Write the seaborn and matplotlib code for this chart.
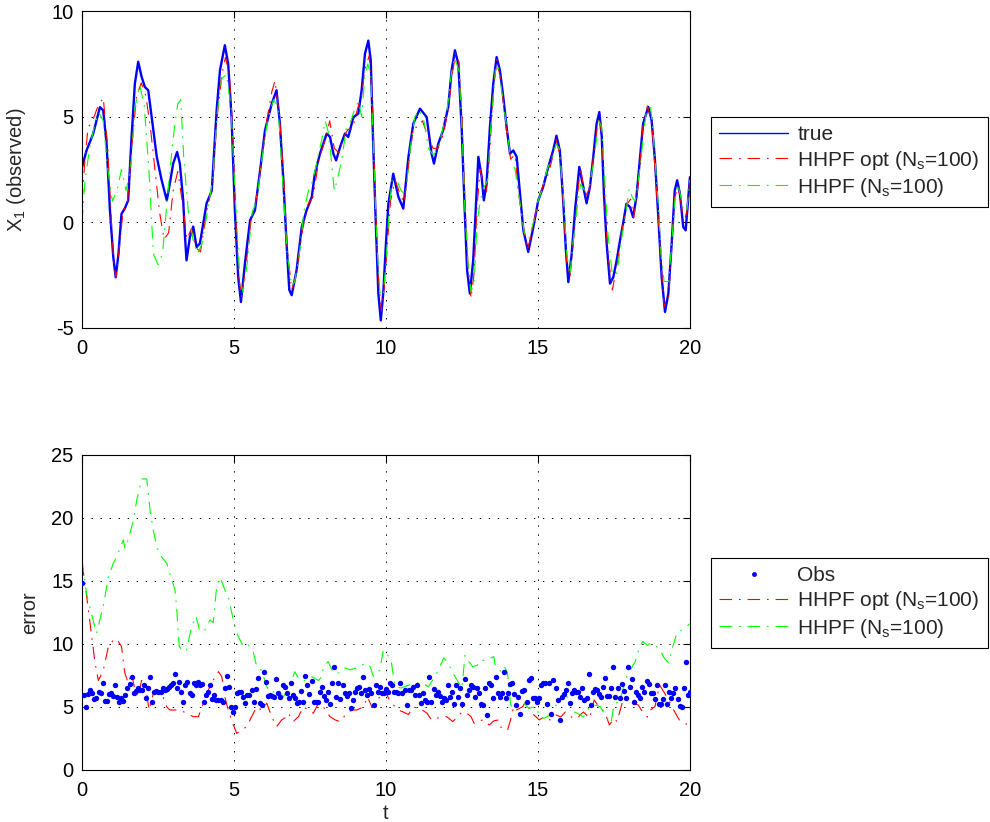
import matplotlib
matplotlib.use('Agg')
import matplotlib.pyplot as plt
import seaborn as sns
import numpy as np
import pandas as pd
from matplotlib.lines import Line2D

# ---- values: (t, value) ----
true_pts = [(0.0, 2.6), (0.15, 3.4), (0.37, 4.2), (0.59, 5.45), (0.7, 5.3), (0.81, 3.7), (0.92, 0.57),
            (1.03, -1.64), (1.11, -2.6), (1.2, -1.5), (1.3, 0.4), (1.41, 0.66), (1.52, 1.04), (1.63, 4.0),
            (1.74, 6.56), (1.85, 7.6), (1.96, 6.9), (2.07, 6.4), (2.18, 6.25), (2.29, 5.0), (2.46, 3.1),
            (2.62, 2.0), (2.79, 1.04), (2.89, 1.83), (3.0, 2.78), (3.13, 3.33), (3.22, 2.78), (3.33, 1.04),
            (3.39, -0.7), (3.44, -1.8), (3.55, -0.7), (3.66, -0.2), (3.77, -1.17), (3.88, -1.0), (4.1, 0.9),
            (4.27, 1.5), (4.43, 5.3), (4.54, 7.2), (4.7, 8.38), (4.81, 7.5), (4.92, 5.0), (5.03, 0.57),
            (5.14, -2.6), (5.23, -3.77), (5.36, -1.95), (5.53, 0.1), (5.69, 0.57), (5.86, 2.46), (6.02, 4.35),
            (6.24, 5.6), (6.4, 6.25), (6.51, 4.7), (6.62, 2.1), (6.73, -1.0), (6.82, -3.2), (6.9, -3.45),
            (7.06, -2.27), (7.23, -0.22), (7.39, 0.57), (7.56, 1.2), (7.66, 2.3), (7.83, 3.25), (7.94, 3.72),
            (8.05, 4.2), (8.16, 4.04), (8.27, 3.25), (8.36, 2.93), (8.49, 3.56), (8.65, 4.2), (8.76, 4.04),
            (8.93, 4.98), (9.09, 5.14), (9.2, 6.25), (9.31, 7.98), (9.42, 8.6), (9.5, 7.67), (9.58, 3.72),
            (9.67, -0.22), (9.75, -3.37), (9.83, -4.64), (9.91, -3.37), (10.0, -1.0), (10.08, 0.88),
            (10.24, 2.3), (10.41, 1.2), (10.57, 0.65), (10.74, 3.1), (10.9, 4.67), (11.12, 5.38), (11.34, 4.98),
            (11.5, 3.25), (11.58, 2.78), (11.72, 3.72), (11.88, 4.35), (12.05, 5.46), (12.16, 7.19),
            (12.27, 8.14), (12.38, 7.5), (12.49, 4.5), (12.6, 0.25), (12.67, -2.27), (12.76, -3.37),
            (12.87, -1.8), (12.98, 1.36), (13.04, 3.1), (13.15, 2.14), (13.22, 1.04), (13.31, 1.83),
            (13.42, 4.5), (13.53, 6.56), (13.64, 7.82), (13.75, 7.19), (13.86, 5.93), (13.97, 4.5),
            (14.08, 3.25), (14.19, 3.4), (14.3, 3.1), (14.41, 1.36), (14.52, -0.38), (14.68, -1.4),
            (14.85, -0.22), (15.01, 1.04), (15.17, 1.67), (15.34, 2.62), (15.5, 3.4), (15.61, 4.1),
            (15.72, 3.4), (15.83, 1.04), (15.92, -1.33), (16.0, -2.83), (16.11, -1.5), (16.22, 0.57),
            (16.36, 2.62), (16.47, 1.83), (16.6, 0.9), (16.71, 1.67), (16.82, 3.1), (16.93, 4.67),
            (17.02, 5.22), (17.1, 4.04), (17.17, 1.36), (17.26, -1.0), (17.37, -2.9), (17.48, -2.59),
            (17.59, -1.8), (17.7, -0.85), (17.8, -0.07), (17.91, 0.88), (18.03, 0.72), (18.13, 0.25),
            (18.24, 1.2), (18.36, 3.1), (18.46, 4.67), (18.63, 5.46), (18.74, 4.83), (18.85, 2.93),
            (18.96, 0.25), (19.07, -2.59), (19.18, -4.24), (19.29, -3.37), (19.4, -1.0), (19.5, 1.51),
            (19.58, 1.99), (19.67, 1.36), (19.78, -0.22), (19.86, -0.38), (19.95, 1.2), (20.0, 2.14)]

opt_pts = [(0.0, 1.0), (0.1, 3.0), (0.2, 4.5), (0.35, 4.8), (0.5, 5.4), (0.7, 5.9), (0.85, 3.5), (0.95, 0.5),
           (1.05, -2.0), (1.12, -2.6), (1.2, -1.6), (1.35, 0.5), (1.5, 1.0), (1.65, 3.8), (1.8, 6.0),
           (1.95, 6.6), (2.1, 6.0), (2.25, 4.5), (2.4, 2.5), (2.55, 0.5), (2.7, -0.8), (2.85, -0.5),
           (3.0, 1.5), (3.15, 2.4), (3.3, 1.0), (3.45, -0.8), (3.6, -0.3), (3.75, -1.2), (3.9, -1.4),
           (4.1, 0.5), (4.3, 1.8), (4.45, 5.0), (4.6, 7.0), (4.72, 7.8), (4.85, 7.0), (4.95, 4.5),
           (5.05, 0.5), (5.15, -2.5), (5.25, -3.5), (5.4, -2.0), (5.55, 0.0), (5.7, 0.8), (5.9, 2.8),
           (6.05, 4.6), (6.25, 6.2), (6.35, 6.7), (6.5, 5.0), (6.65, 1.8), (6.75, -1.2), (6.9, -3.2),
           (7.05, -2.5), (7.25, -0.4), (7.45, 0.9), (7.6, 1.2), (7.8, 3.0), (8.0, 3.9), (8.15, 4.8),
           (8.3, 3.5), (8.45, 3.3), (8.6, 4.0), (8.75, 4.4), (8.9, 4.4), (9.05, 5.3), (9.2, 6.0), (9.3, 7.2),
           (9.45, 7.9), (9.55, 6.0), (9.65, 1.0), (9.75, -2.5), (9.85, -4.2), (9.95, -3.0), (10.05, -1.0),
           (10.15, 1.0), (10.3, 2.0), (10.45, 1.4), (10.6, 0.9), (10.75, 2.8), (10.9, 4.5), (11.05, 4.5),
           (11.2, 4.8), (11.4, 4.0), (11.55, 3.5), (11.7, 3.5), (11.9, 4.2), (12.05, 5.4), (12.2, 7.2),
           (12.3, 8.0), (12.4, 7.6), (12.5, 5.0), (12.6, 1.0), (12.7, -2.0), (12.8, -3.6), (12.9, -2.4),
           (13.0, 0.8), (13.1, 2.5), (13.2, 1.8), (13.3, 1.4), (13.4, 3.0), (13.55, 6.5), (13.65, 7.7),
           (13.8, 6.5), (13.95, 4.5), (14.1, 3.0), (14.25, 3.2), (14.35, 1.5), (14.5, 0.0), (14.65, -1.3),
           (14.8, -0.5), (15.0, 1.0), (15.2, 1.9), (15.35, 2.3), (15.5, 3.2), (15.6, 3.9), (15.75, 3.0),
           (15.85, 0.5), (15.95, -2.0), (16.05, -2.6), (16.15, -1.2), (16.3, 1.3), (16.4, 2.6), (16.55, 1.2),
           (16.7, 1.6), (16.85, 3.4), (17.0, 5.0), (17.1, 4.2), (17.2, 1.0), (17.3, -1.5), (17.45, -3.2),
           (17.6, -2.0), (17.75, -0.5), (17.9, 0.8), (18.05, 1.1), (18.15, 0.2), (18.3, 1.8), (18.45, 4.5),
           (18.6, 5.5), (18.75, 4.7), (18.9, 1.5), (19.05, -2.0), (19.15, -4.0), (19.3, -3.5), (19.4, -1.2),
           (19.5, 1.2), (19.6, 1.6), (19.7, 1.0), (19.8, 0.0), (19.9, 0.5), (20.0, 2.0)]

hhpf_pts = [(0.0, 0.0), (0.1, 2.0), (0.25, 3.5), (0.4, 4.5), (0.55, 5.2), (0.7, 4.8), (0.85, 2.5), (1.0, 1.0),
            (1.15, 1.5), (1.3, 2.5), (1.45, 1.5), (1.6, 2.5), (1.75, 5.5), (1.9, 6.5), (2.05, 5.5), (2.2, 2.5),
            (2.35, -1.5), (2.5, -2.0), (2.65, -1.5), (2.8, 1.0), (3.0, 4.0), (3.15, 5.6), (3.25, 5.8),
            (3.35, 3.0), (3.5, 0.5), (3.65, -0.8), (3.8, -1.5), (3.95, -1.0), (4.1, 0.3), (4.3, 2.0),
            (4.45, 5.2), (4.6, 6.8), (4.75, 7.0), (4.9, 5.5), (5.05, 1.0), (5.2, -2.8), (5.3, -3.3),
            (5.45, -1.8), (5.6, 0.5), (5.75, 1.0), (5.9, 2.8), (6.1, 4.8), (6.3, 5.8), (6.45, 5.5), (6.6, 2.0),
            (6.75, -1.5), (6.9, -3.0), (7.0, -2.8), (7.15, -1.5), (7.3, 0.5), (7.45, 1.5), (7.6, 2.0),
            (7.75, 3.0), (7.9, 4.0), (8.0, 4.8), (8.1, 4.3), (8.2, 3.0), (8.3, 1.5), (8.4, 2.0), (8.55, 3.0),
            (8.7, 4.5), (8.85, 4.8), (9.0, 5.5), (9.1, 5.7), (9.2, 5.0), (9.3, 6.8), (9.4, 7.5), (9.5, 7.0),
            (9.6, 3.0), (9.7, -1.0), (9.8, -3.3), (9.9, -3.5), (10.0, -2.0), (10.1, 0.5), (10.2, 2.0),
            (10.35, 2.0), (10.5, 1.5), (10.65, 1.3), (10.8, 3.5), (10.95, 5.0), (11.1, 5.3), (11.25, 4.8),
            (11.4, 3.5), (11.55, 3.2), (11.7, 3.4), (11.85, 4.3), (12.0, 5.2), (12.15, 7.0), (12.25, 7.8),
            (12.4, 7.2), (12.5, 4.5), (12.6, 0.5), (12.7, -2.0), (12.8, -3.3), (12.9, -2.8), (13.0, 0.0),
            (13.1, 1.0), (13.2, 1.6), (13.35, 2.0), (13.45, 4.5), (13.6, 7.2), (13.7, 7.3), (13.85, 5.8),
            (14.0, 4.2), (14.1, 3.0), (14.25, 2.5), (14.4, 1.0), (14.55, -0.5), (14.7, -0.8), (14.85, 0.0),
            (15.0, 1.0), (15.15, 1.6), (15.3, 2.5), (15.45, 3.0), (15.6, 3.7), (15.7, 3.5), (15.85, 1.0),
            (15.95, -1.5), (16.05, -2.5), (16.15, -1.0), (16.3, 0.8), (16.4, 1.8), (16.55, 1.5), (16.7, 1.8),
            (16.85, 3.0), (17.0, 4.8), (17.1, 4.5), (17.2, 2.0), (17.3, -0.5), (17.45, -2.5), (17.6, -2.4),
            (17.75, -0.8), (17.9, 0.5), (18.0, 1.6), (18.1, 1.2), (18.2, 1.0), (18.35, 2.5), (18.5, 4.5),
            (18.6, 5.6), (18.7, 5.6), (18.8, 4.0), (18.95, 1.0), (19.05, -1.5), (19.15, -2.8), (19.3, -2.8),
            (19.4, -1.0), (19.5, 1.0), (19.6, 1.8), (19.7, 1.2), (19.8, 0.5), (19.9, 0.6), (20.0, 2.0)]

# observation errors, evenly spaced over t = 0..20
obs_err = [14.8,
           5.95, 5.03, 6.05, 6.35, 6.08, 5.6, 5.69, 6.22, 6.08, 6.9, 5.5, 5.5, 6.05, 6.08, 5.9, 6.75, 5.8, 5.4,
           5.7, 5.5, 5.95, 6.5, 6.8, 7.4, 6.1, 6.25, 6.48, 6.35, 6.35, 6.75, 5.75, 6.48, 7.35, 5.37, 6.22, 6.3,
           6.22, 6.22, 6.48, 6.35, 6.4, 6.6, 6.75, 6.88, 7.6, 6.48, 7.0, 6.22, 5.37, 6.75, 7.0, 6.08, 5.95,
           6.88, 6.75, 6.95, 6.75, 6.82, 5.42, 5.95, 6.22, 6.75, 5.6, 5.95, 5.55, 5.55, 5.55, 5.42, 6.48, 7.45,
           6.55, 5.03, 4.63, 5.03, 6.1, 6.22,
           6.22, 5.82, 5.29, 5.95, 5.95, 6.35, 5.42, 6.4, 7.28, 5.29, 5.16, 7.75, 6.96, 5.87, 5.95, 5.87, 5.82,
           7.2, 6.08, 5.82, 6.75, 6.61, 6.08, 5.69, 6.88, 5.95, 5.69, 5.29, 5.42, 6.27, 5.42, 7.46, 6.75, 6.03,
           7.06, 5.37, 5.42, 5.42, 6.16, 6.56, 5.87, 5.56, 6.16, 5.21, 6.88, 8.2, 5.77, 6.88, 5.61, 6.75, 6.08,
           5.87, 6.08, 4.9, 5.56, 6.22, 6.48, 6.61, 6.08, 7.35, 6.35, 5.95, 6.4, 6.08, 5.16, 6.75, 6.16, 6.56,
           6.08, 6.14, 6.4, 6.22, 6.88, 6.75, 6.22,
           6.22, 6.08, 6.88, 6.08, 6.35, 5.16, 6.35, 6.35, 6.61, 5.95, 6.75, 5.95, 5.29, 6.08, 5.56, 5.42, 7.41,
           5.42, 6.4, 5.95, 6.22, 5.87, 5.42, 5.69, 5.56, 6.75, 5.82, 6.22, 5.21, 6.75, 5.82, 6.48, 5.21, 7.22,
           5.95, 6.35, 6.75, 6.61, 5.82, 6.48, 6.08, 5.21, 5.16, 6.48, 4.37, 6.93, 6.75, 5.69, 7.41, 6.08, 5.82,
           6.08, 7.75, 5.69, 6.14, 6.83, 6.88, 6.0, 5.16, 5.82, 4.45, 6.3, 6.35, 5.42, 7.14, 7.28, 5.69,
           5.69, 5.42, 5.69, 6.75, 6.93, 6.88, 5.24, 6.88, 4.45, 7.14, 6.48, 5.56, 3.97, 5.82, 6.03, 6.35, 6.88,
           5.34, 6.14, 6.35, 6.22, 6.22, 5.82, 6.48, 5.56, 5.69, 7.59, 5.16, 6.22, 6.4, 6.35, 6.0, 5.82, 6.61,
           7.28, 5.87, 5.87, 6.48, 8.15, 5.82, 6.48, 5.69, 6.83, 6.3, 5.69, 8.2, 6.61, 7.2, 5.42, 6.22, 5.95,
           5.69, 6.61, 6.22, 7.06, 6.8, 6.14, 6.08, 5.61, 6.75, 5.24, 5.21, 5.61, 6.75, 5.21, 6.22, 5.69, 6.14,
           6.48, 5.61, 5.08, 4.97, 6.48, 8.6, 5.95, 6.22]

opt_err_pts = [(0.0, 16.4), (0.1, 14.8), (0.21, 12.7), (0.32, 10.6), (0.43, 8.5), (0.54, 7.1), (0.7, 7.9),
               (0.87, 9.8), (1.03, 10.3), (1.14, 10.4), (1.3, 9.8), (1.41, 7.7), (1.52, 6.9), (1.63, 7.7),
               (1.74, 6.35), (1.85, 5.8), (1.96, 7.1), (2.07, 6.9), (2.21, 4.76), (2.35, 6.1), (2.46, 6.35),
               (2.62, 6.1), (2.79, 5.0), (2.89, 4.76), (3.05, 4.76), (3.22, 4.76), (3.44, 4.5), (3.66, 4.23),
               (3.83, 4.23), (3.99, 5.3), (4.16, 6.35), (4.32, 7.14), (4.49, 7.8), (4.6, 7.4), (4.7, 5.8),
               (4.81, 4.76), (4.96, 3.7), (5.09, 2.9), (5.25, 3.17), (5.42, 3.44), (5.58, 4.23), (5.75, 5.0),
               (5.91, 4.76), (6.08, 5.3), (6.24, 4.23), (6.4, 3.44), (6.57, 3.97), (6.73, 4.23), (6.79, 4.5),
               (6.95, 3.84), (7.12, 4.23), (7.28, 5.0), (7.45, 4.76), (7.61, 4.5), (7.78, 5.3), (7.94, 5.0),
               (8.16, 4.23), (8.33, 3.97), (8.49, 3.84), (8.71, 4.5), (8.88, 4.76), (9.04, 4.76), (9.26, 5.0),
               (9.39, 5.8), (9.54, 5.0), (9.65, 5.4), (9.8, 5.8), (9.97, 6.35), (10.08, 5.7), (10.24, 5.16),
               (10.41, 4.76), (10.57, 4.6), (10.74, 4.4), (10.9, 5.0), (11.05, 4.9), (11.2, 4.76), (11.35, 4.5),
               (11.5, 3.97), (11.67, 4.1), (11.84, 4.23), (12.0, 4.23), (12.2, 3.84), (12.35, 4.2), (12.5, 4.6),
               (12.66, 4.5), (12.8, 4.23), (12.9, 3.7), (13.05, 3.9), (13.2, 3.97), (13.4, 3.57), (13.55, 3.9),
               (13.7, 3.97), (13.8, 3.3), (14.0, 3.17), (14.1, 3.97), (14.2, 5.03), (14.3, 4.76), (14.5, 5.03),
               (14.6, 5.42), (14.8, 4.5), (14.93, 4.23), (15.04, 3.97), (15.2, 4.2), (15.4, 3.97), (15.6, 4.37),
               (15.75, 4.2), (15.9, 4.6), (16.1, 4.2), (16.3, 4.1), (16.4, 4.4), (16.5, 4.6), (16.7, 4.1),
               (16.85, 5.56), (17.0, 5.03), (17.2, 4.6), (17.35, 3.57), (17.5, 4.1), (17.6, 3.84), (17.8, 5.56),
               (17.9, 5.69), (18.1, 5.29), (18.3, 5.16), (18.4, 4.76), (18.6, 4.2), (18.7, 4.76), (18.85, 5.03),
               (19.0, 6.75), (19.1, 6.35), (19.3, 5.56), (19.4, 5.03), (19.5, 4.6), (19.65, 3.97), (19.8, 3.7),
               (19.95, 3.6)]

hhpf_err_pts = [(0.0, 16.7), (0.15, 14.0), (0.3, 12.5), (0.48, 10.85), (0.7, 13.0), (0.87, 15.3), (1.03, 16.4),
                (1.14, 16.9), (1.36, 18.25), (1.41, 17.6), (1.52, 18.25), (1.69, 19.8), (1.8, 21.4), (1.96, 23.1),
                (2.13, 23.1), (2.24, 20.6), (2.35, 19.0), (2.46, 17.7), (2.62, 16.9), (2.79, 16.4), (2.89, 15.6),
                (3.06, 14.3), (3.11, 13.0), (3.2, 9.8), (3.33, 9.4), (3.44, 9.5), (3.61, 11.4), (3.75, 12.2),
                (3.88, 11.0), (4.04, 11.1), (4.21, 11.9), (4.32, 11.7), (4.43, 14.55), (4.54, 15.3), (4.7, 14.3),
                (4.81, 13.8), (4.98, 11.9), (5.09, 10.85), (5.31, 9.8), (5.48, 9.9), (5.64, 9.3), (5.75, 8.2),
                (5.91, 7.9), (6.08, 6.6), (6.24, 6.1), (6.4, 6.35), (6.62, 5.8), (6.79, 6.35), (7.0, 7.8),
                (7.17, 7.1), (7.39, 7.1), (7.56, 7.4), (7.78, 7.1), (7.89, 7.4), (7.94, 8.2), (8.1, 8.6),
                (8.27, 7.7), (8.49, 7.7), (8.66, 8.1), (8.82, 7.94), (9.15, 8.2), (9.31, 8.5), (9.48, 8.2),
                (9.59, 7.4), (9.8, 7.94), (9.91, 9.5), (10.02, 9.3), (10.18, 8.5), (10.3, 6.6), (10.5, 6.5),
                (10.7, 6.7), (11.0, 6.9), (11.2, 6.9), (11.4, 6.6), (11.6, 7.4), (11.7, 7.8), (11.9, 8.9),
                (12.0, 8.6), (12.1, 8.2), (12.25, 7.5), (12.4, 6.9), (12.5, 6.5), (12.6, 9.1), (12.7, 8.7),
                (12.85, 8.2), (13.0, 8.3), (13.1, 8.7), (13.3, 8.7), (13.55, 9.0), (13.6, 8.2), (13.8, 7.8),
                (13.9, 8.2), (14.0, 7.7), (14.1, 5.16), (14.2, 4.9), (14.5, 5.4), (14.7, 4.9), (14.95, 5.03),
                (15.05, 4.2), (15.2, 4.1), (15.4, 4.37), (15.7, 5.56), (15.85, 6.08), (16.0, 5.69), (16.2, 4.6),
                (16.3, 4.5), (16.5, 4.2), (16.7, 5.03), (16.85, 5.16), (17.05, 5.03), (17.2, 4.37), (17.4, 3.7),
                (17.5, 5.16), (17.7, 5.56), (17.9, 7.28), (18.0, 7.8), (18.2, 8.6), (18.35, 9.8), (18.45, 10.2),
                (18.6, 9.9), (18.7, 10.05), (18.85, 9.9), (19.0, 9.6), (19.15, 8.9), (19.3, 8.5), (19.4, 9.5),
                (19.57, 10.85), (19.67, 11.0), (19.84, 11.3), (20.0, 11.6)]

x_ticks = [0, 5, 10, 15, 20]
top_yticks = [-5, 0, 5, 10]
bot_yticks = [0, 5, 10, 15, 20, 25]
top_labels = ['true', 'HHPF opt (N$_s$=100)', 'HHPF (N$_s$=100)']
bot_labels = ['Obs', 'HHPF opt (N$_s$=100)', 'HHPF (N$_s$=100)']


def to_df(pts):
    t, v = zip(*pts)
    return pd.DataFrame({'t': t, 'v': v})


sns.set_style('white')
plt.rcParams['font.family'] = ['Liberation Sans', 'DejaVu Sans']
plt.rcParams['mathtext.fontset'] = 'custom'
plt.rcParams['mathtext.rm'] = 'Liberation Sans'
plt.rcParams['mathtext.it'] = 'Liberation Sans'
plt.rcParams['lines.scale_dashes'] = False
plt.rcParams['axes.unicode_minus'] = False

BLUE, RED, GREEN = (0, 0, 1), (1, 0, 0), (0, 1, 0)
DASHDOT = (0, (9, 5, 1.2, 5))
FS = 14.5

fig = plt.figure(figsize=(9.9, 8.22), dpi=100)
ax1 = fig.add_axes([0.0828, 0.601, 0.6141, 0.3856])
ax2 = fig.add_axes([0.0828, 0.0633, 0.6141, 0.3832])

# top panel: trajectories
sns.lineplot(data=to_df(true_pts), x='t', y='v', ax=ax1, color=BLUE, lw=1.7, estimator=None, sort=False)
sns.lineplot(data=to_df(opt_pts), x='t', y='v', ax=ax1, color=RED, lw=0.8, estimator=None, sort=False)
ax1.lines[-1].set_linestyle(DASHDOT)
sns.lineplot(data=to_df(hhpf_pts), x='t', y='v', ax=ax1, color=GREEN, lw=0.8, estimator=None, sort=False)
ax1.lines[-1].set_linestyle(DASHDOT)

# bottom panel: errors
obs_df = pd.DataFrame({'t': np.linspace(0, 20, len(obs_err)), 'v': obs_err})
sns.scatterplot(data=obs_df, x='t', y='v', ax=ax2, color=BLUE, s=15, linewidth=0, zorder=3)
sns.lineplot(data=to_df(opt_err_pts), x='t', y='v', ax=ax2, color=RED, lw=0.8, estimator=None, sort=False)
ax2.lines[-1].set_linestyle(DASHDOT)
sns.lineplot(data=to_df(hhpf_err_pts), x='t', y='v', ax=ax2, color=GREEN, lw=0.8, estimator=None, sort=False)
ax2.lines[-1].set_linestyle(DASHDOT)

for ax, yt in [(ax1, top_yticks), (ax2, bot_yticks)]:
    ax.set_xlim(0, 20)
    ax.set_ylim(yt[0], yt[-1])
    ax.set_xticks(x_ticks)
    ax.set_yticks(yt)
    ax.grid(True, color='black', linestyle=(0, (1, 5.5)), linewidth=0.7)
    ax.tick_params(direction='in', length=5, width=0.8, top=True, right=True,
                   labelsize=FS, colors='black')
    ax.tick_params(axis='x', pad=8)
    ax.tick_params(axis='y', pad=6)
    for sp in ax.spines.values():
        sp.set_color('black')
        sp.set_linewidth(0.8)
    ax.set_xlabel('')
    ax.set_ylabel('')

ax1.set_ylabel(r'X$_1$ (observed)', fontsize=FS)
ax1.yaxis.set_label_coords(-0.088, 0.5)
ax2.set_ylabel('error', fontsize=FS)
ax2.yaxis.set_label_coords(-0.07, 0.5)
ax2.set_xlabel('t', fontsize=FS, labelpad=3)

h_true = Line2D([], [], color=BLUE, lw=1)
h_obs = Line2D([], [], color=BLUE, marker='o', ls='none', ms=3.5, mew=0)
h_opt = Line2D([], [], color=RED, lw=0.8, ls=DASHDOT)
h_hhpf = Line2D([], [], color=GREEN, lw=0.8, ls=DASHDOT)

leg_kw = dict(loc='upper left', frameon=True, fancybox=False, edgecolor='black', fontsize=15,
              handlelength=3.3, handletextpad=0.45, labelspacing=0.2, borderpad=0.4, borderaxespad=0,
              framealpha=1, bbox_transform=fig.transFigure)
l1 = fig.legend([h_true, h_opt, h_hhpf], top_labels, bbox_to_anchor=(711 / 990, 1 - 117 / 822), **leg_kw)
l2 = fig.legend([h_obs, h_opt, h_hhpf], bot_labels, bbox_to_anchor=(711 / 990, 1 - 558 / 822), **leg_kw)
for leg in (l1, l2):
    leg.get_frame().set_linewidth(0.8)

fig.savefig('out.png', dpi=100)
